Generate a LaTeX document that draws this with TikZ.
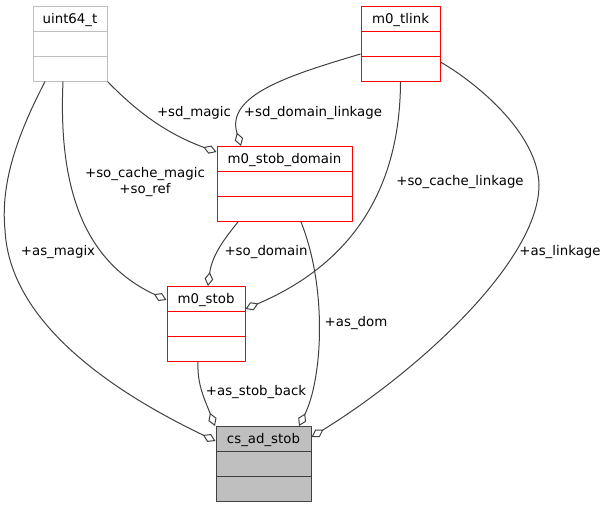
\documentclass[tikz,border=0pt]{standalone}
\usepackage{fontspec}
\setmainfont{DejaVu Sans}
\usepackage{tikz}
\usetikzlibrary{arrows.meta}
\definecolor{EdgeGray}{HTML}{404040}
\definecolor{BoxRed}{HTML}{FF0000}
\definecolor{BoxGray}{HTML}{BFBFBF}
\newcommand{\EdgeColor}{EdgeGray}

\begin{document}
\begin{tikzpicture}[line cap=round,line join=round,>={Diamond[open,length=10.5pt,width=6.5pt]}
  ,x=0.75pt,y=-0.75pt
  ,classbox/.style={draw=#1,line width=0.75pt,inner sep=0pt,
    text height=12.75pt,text depth=43.5pt,
    path picture={\foreach \r in {-18.75pt,-37.5pt}
      \draw[#1,line width=0.75pt] ([yshift=\r]path picture bounding box.north west)
      -- ([yshift=\r]path picture bounding box.north east);}}
  ,member/.style={->,color=\EdgeColor,line width=0.75pt,line cap=butt}
  ,lbl/.style={inner sep=0pt,align=center}]
  \useasboundingbox (0,0) rectangle (606,508);
  % classes
  \node[classbox=BoxGray,minimum width=55.5pt] (uint) at (70,43.5) {uint64\_t};
  \node[classbox=BoxRed,minimum width=59.25pt] (tlink) at (400.5,44) {m0\_tlink};
  \node[classbox=BoxRed,minimum width=101.25pt] (domain) at (284.5,184) {m0\_stob\_domain};
  \node[classbox=BoxRed,minimum width=58.5pt] (stob) at (206,324) {m0\_stob};
  \node[classbox=EdgeGray,fill=BoxGray,minimum width=71.25pt] (adstob) at (263.5,464) {cs\_ad\_stob};
  % members
  \draw[member] (uint.south east) .. controls (140,115) and (170,135)
    .. ([yshift=-4.5pt]domain.north west);
  \draw[member] ([yshift=-7.5pt]tlink.west) .. controls (290,75) and (225,95)
    .. ([xshift=-32.6pt]domain.north);
  \draw[member] ([xshift=-5.25pt]uint.south) .. controls (58,190) and (85,262)
    .. ([yshift=-10.5pt]stob.north west);
  \draw[member] ([xshift=-18.75pt]uint.south) .. controls (20,130) and (0,180) .. (5,230)
    .. controls (10,330) and (130,400) .. ([yshift=-11.25pt]adstob.north west);
  \draw[member] ([xshift=-34.9pt]domain.south) .. controls (225,238) and (212,255)
    .. ([xshift=1.5pt]stob.north);
  \draw[member] (tlink.south) .. controls (400,180) and (360,260)
    .. ([yshift=-17.25pt]stob.north east);
  \draw[member] ([xshift=12.4pt]domain.south) .. controls (328,290) and (322,380)
    .. ([xshift=26.6pt]adstob.north);
  \draw[member] ([xshift=-6pt]stob.south) .. controls (197,385) and (205,400)
    .. ([xshift=-36.4pt]adstob.north);
  \draw[member] ([yshift=-13.5pt]tlink.east) .. controls (480,85) and (538,135) .. (539,185)
    .. controls (539,260) and (420,370) .. ([yshift=-8.25pt]adstob.north east);
  % labels
  \node[lbl] (l_sdmagic) at (194,113) {+sd\_magic};
  \node[lbl] (l_sdlink) at (313,113) {+sd\_domain\_linkage};
  \node[lbl] (l_somagic) at (145,182) {+so\_cache\_magic\\+so\_ref};
  \node[lbl] (l_asmagix) at (58,252) {+as\_magix};
  \node[lbl] (l_sodomain) at (266,252) {+so\_domain};
  \node[lbl] (l_solink) at (460,182) {+so\_cache\_linkage};
  \node[lbl] (l_asdom) at (356,323) {+as\_dom};
  \node[lbl] (l_asback) at (256,392) {+as\_stob\_back};
  \node[lbl] (l_aslink) at (560,252) {+as\_linkage};
\end{tikzpicture}
\end{document}
